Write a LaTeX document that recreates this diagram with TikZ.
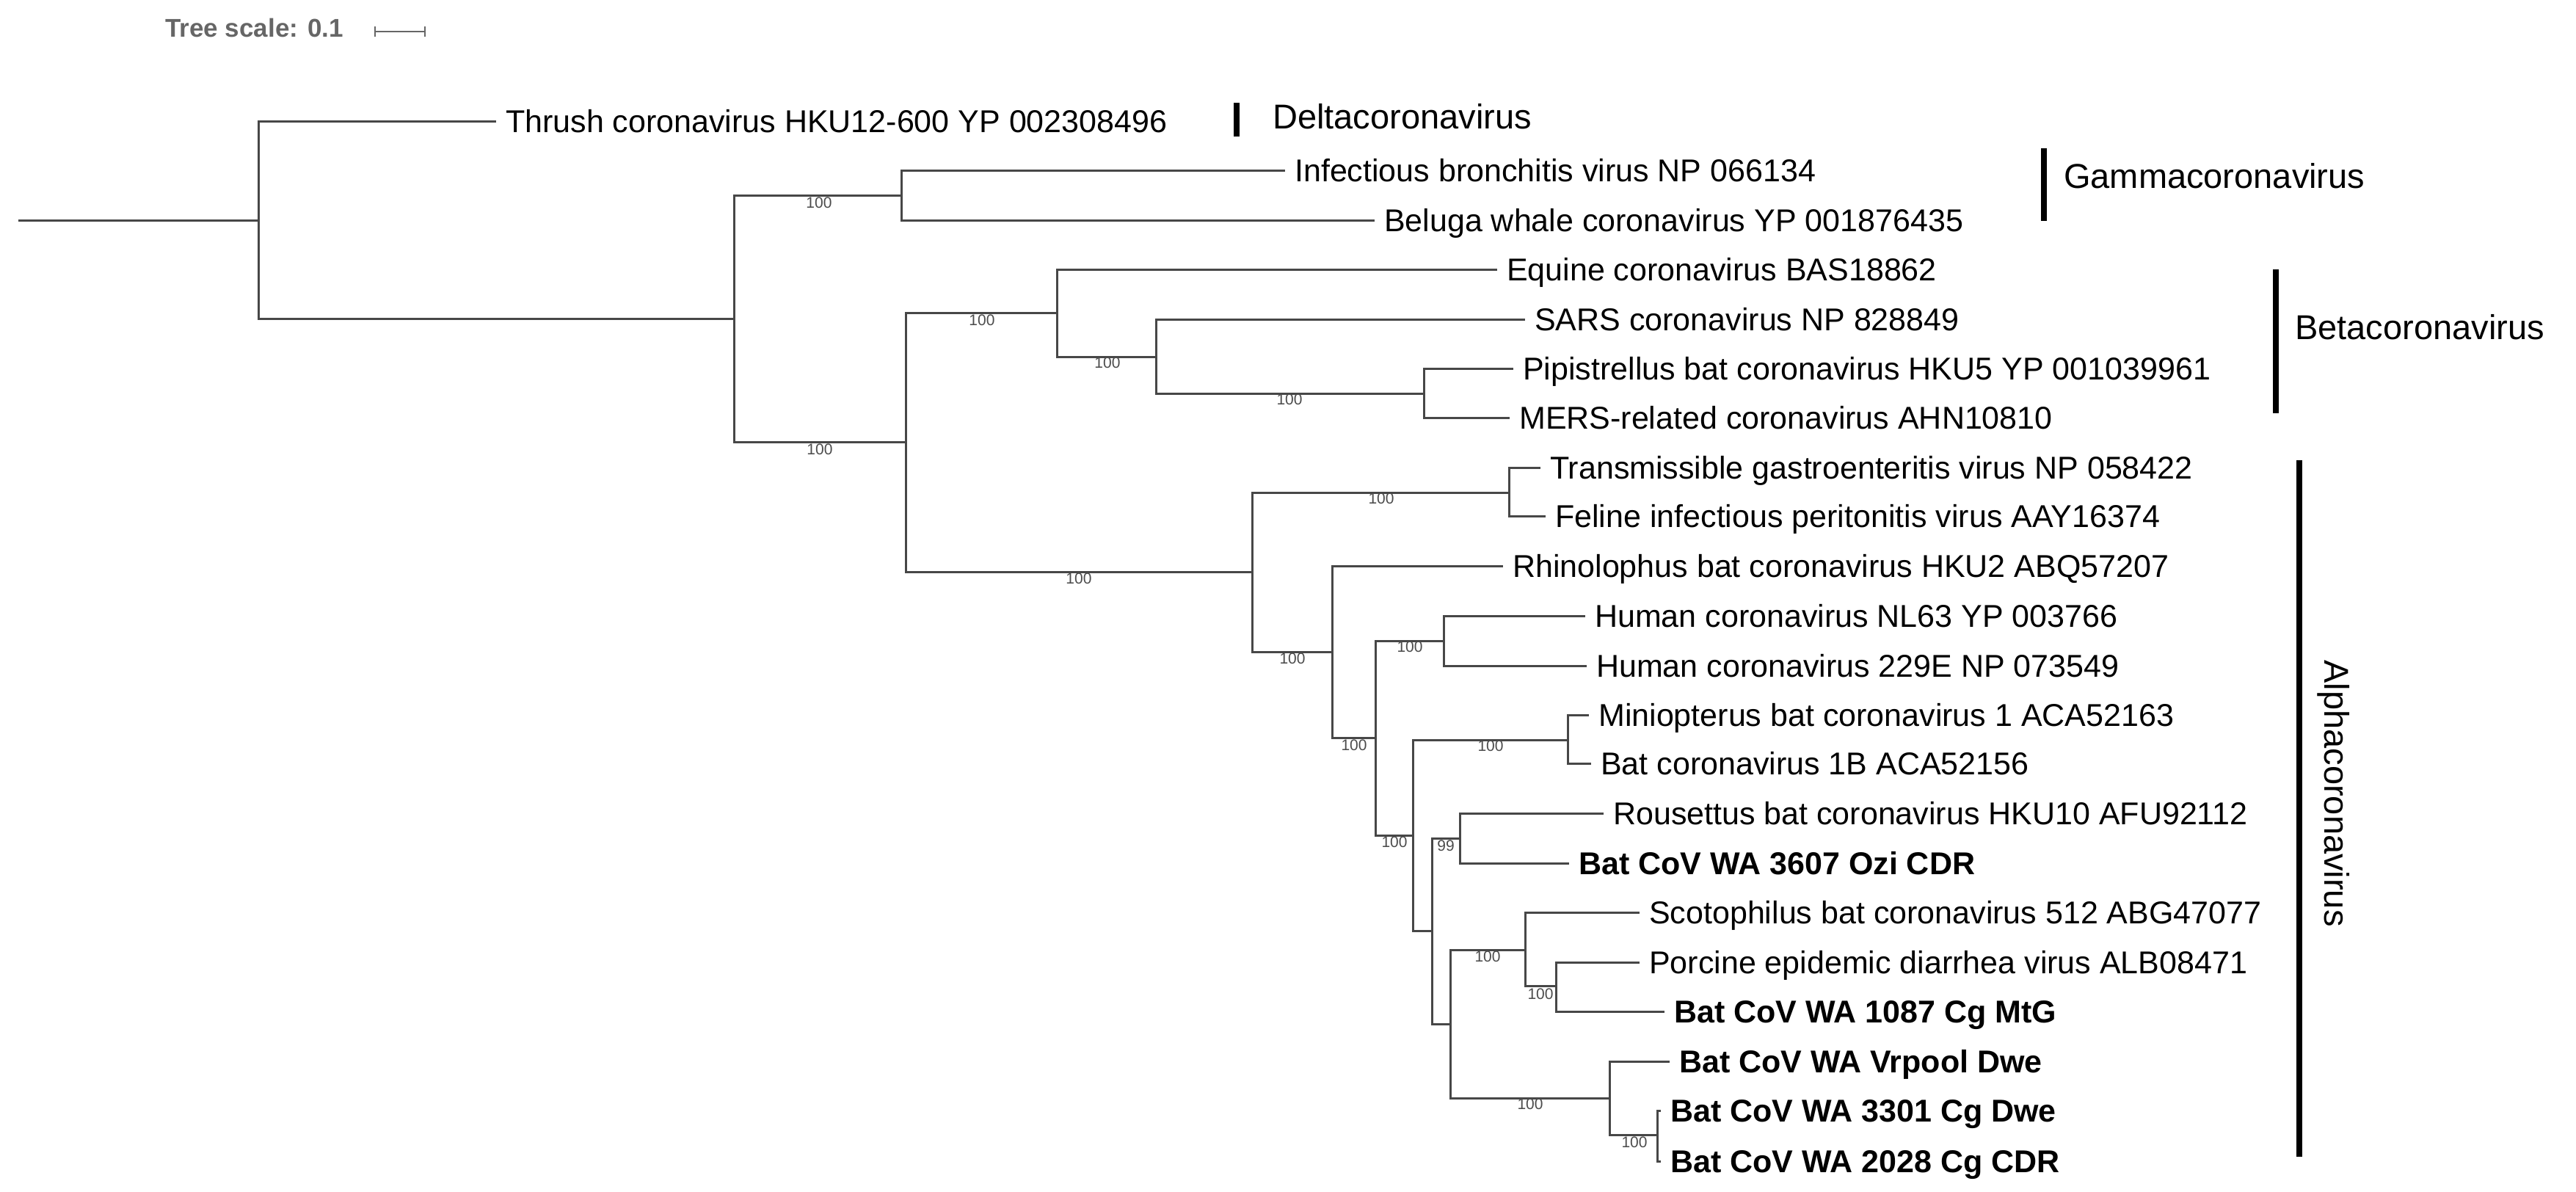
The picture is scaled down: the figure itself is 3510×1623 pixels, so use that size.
\documentclass[tikz,border=0pt]{standalone}
\usepackage{fontspec}
\setmainfont{Liberation Sans}
\newcommand{\leaffont}{\fontsize{43}{50}\selectfont}
\newcommand{\bsfont}{\fontsize{21}{24}\selectfont}
\newcommand{\cladefont}{\fontsize{47}{54}\selectfont}
\begin{document}
\begin{tikzpicture}[x=1pt,y=-1pt,
  leaf/.style={anchor=west,inner xsep=13pt,inner ysep=0pt,text height=31pt,text depth=0pt,font=\leaffont},
  bleaf/.style={leaf,font=\leaffont\bfseries},
  bs/.style={font=\bsfont,text=black!70,inner sep=0pt},
  edge/.style={draw=black!72,line width=3pt},
  bar/.style={draw=black,line width=8pt},
  clade/.style={font=\cladefont,anchor=west,inner sep=0pt,text height=34pt,text depth=0pt}]
\useasboundingbox (0,0) rectangle (3510,1623);
% tree scale
\node[anchor=west,inner sep=0pt,text height=25pt,text depth=0pt,font=\fontsize{35}{40}\selectfont\bfseries,text=black!60] (ts) at (225,38) {Tree scale: 0.1};
\coordinate (sa) at (511,43); \coordinate (sb) at (579,43);
\draw[draw=black!60,line width=2.5pt] (sa) -- (sb);
\draw[draw=black!60,line width=2.5pt] ([yshift=-7pt]sa) -- ([yshift=7pt]sa);
\draw[draw=black!60,line width=2.5pt] ([yshift=-7pt]sb) -- ([yshift=7pt]sb);
% internal nodes
\coordinate (root) at (25,300);
\coordinate (n1) at (352,300);
\coordinate (n2) at (1000,434);
\coordinate (g) at (1228,266);
\coordinate (n3) at (1234,602);
\coordinate (b1) at (1440,426);
\coordinate (b2) at (1575,486);
\coordinate (b3) at (1940,536);
\coordinate (a1) at (1706,779);
\coordinate (a2) at (2056,671);
\coordinate (a3) at (1815,888);
\coordinate (a4) at (1874,1005);
\coordinate (a5) at (1967,873);
\coordinate (a6) at (1925,1138);
\coordinate (a7) at (2136,1008);
\coordinate (a8) at (1951,1268);
\coordinate (a9) at (1989,1142);
\coordinate (a10) at (1976,1395);
\coordinate (a11) at (2078,1294);
\coordinate (a12) at (2120,1343);
\coordinate (a13) at (2193,1496);
\coordinate (a14) at (2258,1546);
% leaves
\node[leaf] (thr) at (676,165) {Thrush coronavirus HKU12-600 YP 002308496};
\node[leaf] (ibv) at (1751,232) {Infectious bronchitis virus NP 066134};
\node[leaf] (bel) at (1873,300) {Beluga whale coronavirus YP 001876435};
\node[leaf] (equ) at (2040,367) {Equine coronavirus BAS18862};
\node[leaf] (sars) at (2078,435) {SARS coronavirus NP 828849};
\node[leaf] (pip) at (2062,502) {Pipistrellus bat coronavirus HKU5 YP 001039961};
\node[leaf] (mers) at (2057,569) {MERS-related coronavirus AHN10810};
\node[leaf] (tgev) at (2099,637) {Transmissible gastroenteritis virus NP 058422};
\node[leaf] (fel) at (2106,703) {Feline infectious peritonitis virus AAY16374};
\node[leaf] (rh) at (2048,771) {Rhinolophus bat coronavirus HKU2 ABQ57207};
\node[leaf] (nl) at (2160,839) {Human coronavirus NL63 YP 003766};
\node[leaf] (hcv) at (2162,907) {Human coronavirus 229E NP 073549};
\node[leaf] (min) at (2165,974) {Miniopterus bat coronavirus 1 ACA52163};
\node[leaf] (b1b) at (2168,1040) {Bat coronavirus 1B ACA52156};
\node[leaf] (rou) at (2185,1108) {Rousettus bat coronavirus HKU10 AFU92112};
\node[bleaf] (ozi) at (2138,1176) {Bat CoV WA 3607 Ozi CDR};
\node[leaf] (sco) at (2234,1243) {Scotophilus bat coronavirus 512 ABG47077};
\node[leaf] (ped) at (2234,1311) {Porcine epidemic diarrhea virus ALB08471};
\node[bleaf] (mtg) at (2268,1378) {Bat CoV WA 1087 Cg MtG};
\node[bleaf] (vrp) at (2275,1446) {Bat CoV WA Vrpool Dwe};
\node[bleaf] (dwe) at (2263,1513) {Bat CoV WA 3301 Cg Dwe};
\node[bleaf] (cdr) at (2263,1582) {Bat CoV WA 2028 Cg CDR};
% edges
\draw[edge] (root) -- (n1);
\draw[edge] (n1) |- (thr.west);
\draw[edge] (n1) |- (n2);
\draw[edge] (n2) |- (g);
\draw[edge] (g) |- (ibv.west);
\draw[edge] (g) |- (bel.west);
\draw[edge] (n2) |- (n3);
\draw[edge] (n3) |- (b1);
\draw[edge] (b1) |- (equ.west);
\draw[edge] (b1) |- (b2);
\draw[edge] (b2) |- (sars.west);
\draw[edge] (b2) |- (b3);
\draw[edge] (b3) |- (pip.west);
\draw[edge] (b3) |- (mers.west);
\draw[edge] (n3) |- (a1);
\draw[edge] (a1) |- (a2);
\draw[edge] (a2) |- (tgev.west);
\draw[edge] (a2) |- (fel.west);
\draw[edge] (a1) |- (a3);
\draw[edge] (a3) |- (rh.west);
\draw[edge] (a3) |- (a4);
\draw[edge] (a4) |- (a5);
\draw[edge] (a5) |- (nl.west);
\draw[edge] (a5) |- (hcv.west);
\draw[edge] (a4) |- (a6);
\draw[edge] (a6) |- (a7);
\draw[edge] (a7) |- (min.west);
\draw[edge] (a7) |- (b1b.west);
\draw[edge] (a6) |- (a8);
\draw[edge] (a8) |- (a9);
\draw[edge] (a9) |- (rou.west);
\draw[edge] (a9) |- (ozi.west);
\draw[edge] (a8) |- (a10);
\draw[edge] (a10) |- (a11);
\draw[edge] (a11) |- (sco.west);
\draw[edge] (a11) |- (a12);
\draw[edge] (a12) |- (ped.west);
\draw[edge] (a12) |- (mtg.west);
\draw[edge] (a10) |- (a13);
\draw[edge] (a13) |- (vrp.west);
\draw[edge] (a13) |- (a14);
\draw[edge] (a14) |- (dwe.west);
\draw[edge] (a14) |- (cdr.west);
% bootstrap values
\node[bs] (s1) at (1116,276) {100};
\node[bs] (s2) at (1117,612) {100};
\node[bs] (s3) at (1338,436) {100};
\node[bs] (s4) at (1509,494) {100};
\node[bs] (s5) at (1757,544) {100};
\node[bs] (s6) at (1470,788) {100};
\node[bs] (s7) at (1882,679) {100};
\node[bs] (s8) at (1761,897) {100};
\node[bs] (s9) at (1845,1015) {100};
\node[bs] (s10) at (1921,881) {100};
\node[bs] (s11) at (1900,1147) {100};
\node[bs] (s12) at (2031,1016) {100};
\node[bs] (s13) at (1970,1152) {99};
\node[bs] (s14) at (2027,1303) {100};
\node[bs] (s15) at (2099,1354) {100};
\node[bs] (s16) at (2085,1504) {100};
\node[bs] (s17) at (2227,1556) {100};
% clade bars and names
\coordinate (d1) at (1685,140); \coordinate (d2) at (1685,186);
\draw[bar] (d1) -- (d2);
\node[clade] (dl) at (1734,158) {Deltacoronavirus};
\coordinate (g1) at (2785,202); \coordinate (g2) at (2785,301);
\draw[bar] (g1) -- (g2);
\node[clade] (gl) at (2812,239) {Gammacoronavirus};
\coordinate (e1) at (3101,367); \coordinate (e2) at (3101,563);
\draw[bar] (e1) -- (e2);
\node[clade] (bl) at (3127,445) {Betacoronavirus};
\coordinate (f1) at (3133,627); \coordinate (f2) at (3133,1576);
\draw[bar] (f1) -- (f2);
\node[font=\cladefont,inner sep=0pt,rotate=-90] (al) at (3180,1081) {Alphacoronavirus};
\end{tikzpicture}
\end{document}
